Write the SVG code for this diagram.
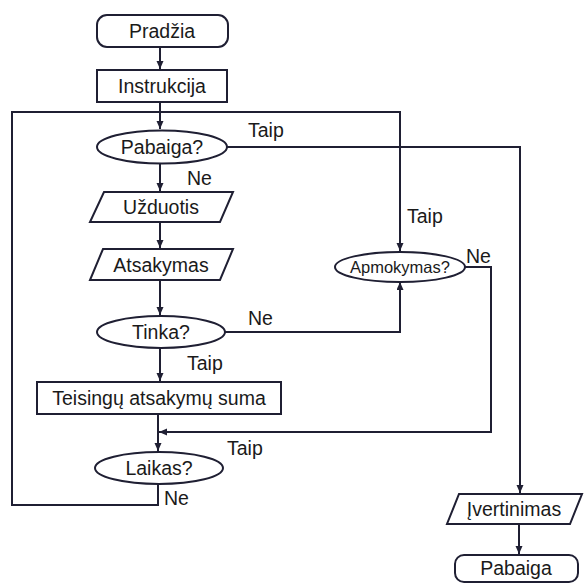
<svg xmlns="http://www.w3.org/2000/svg" width="585" height="584" viewBox="0 0 585 584">
<style>
.s{fill:#fff;stroke:#1f1f33;stroke-width:2}
.c{fill:none;stroke:#1f1f33;stroke-width:2}
text{font-family:"Liberation Sans",Arial,sans-serif;font-size:19.5px;fill:#1a1a1a}
.m{text-anchor:middle;dominant-baseline:central}
.sm{font-size:16.5px}
</style>
<defs>
<marker id="a" markerWidth="9" markerHeight="8" refX="8" refY="3.5" orient="auto" markerUnits="userSpaceOnUse">
<path d="M0,0 L8,3.5 L0,7 z" fill="#1f1f33"/>
</marker>
</defs>
<rect width="585" height="584" fill="#fff"/>
<g id="connectors">
<path class="c" d="M160 47 V69" marker-end="url(#a)"/>
<path class="c" d="M160 102 V129" marker-end="url(#a)"/>
<path class="c" d="M227 147 H520 V493" marker-end="url(#a)"/>
<path class="c" d="M160 163 V191" marker-end="url(#a)"/>
<path class="c" d="M160 222 V248" marker-end="url(#a)"/>
<path class="c" d="M160 280 V315" marker-end="url(#a)"/>
<path class="c" d="M225 332 H400 V282" marker-end="url(#a)"/>
<path class="c" d="M160 348 V381" marker-end="url(#a)"/>
<path class="c" d="M158 414 V451" marker-end="url(#a)"/>
<path class="c" d="M465 267 H491 V432 H159" marker-end="url(#a)"/>
<path class="c" d="M158 484 V505 H12 V112 H400 V251" marker-end="url(#a)"/>
<path class="c" d="M519 524 V554" marker-end="url(#a)"/>
<text x="248" y="137">Taip</text>
<text x="187" y="185">Ne</text>
<text x="407" y="223">Taip</text>
<text x="466" y="263">Ne</text>
<text x="248" y="325">Ne</text>
<text x="187" y="370">Taip</text>
<text x="227" y="455">Taip</text>
<text x="164" y="505">Ne</text>
</g>
<g id="pradzia"><rect class="s" x="97" y="15" width="131" height="32" rx="10"/><text class="m" x="162" y="31">Pradžia</text></g>
<g id="instrukcija"><rect class="s" x="97" y="70" width="130" height="32"/><text class="m" x="162" y="86">Instrukcija</text></g>
<g id="pabaiga-q"><ellipse class="s" cx="162" cy="147" rx="65" ry="16.5"/><text class="m" x="162" y="147">Pabaiga?</text></g>
<g id="uzduotis"><path class="s" d="M104 192 H233 L220 222 H90 Z"/><text class="m" x="161" y="207">Užduotis</text></g>
<g id="atsakymas"><path class="s" d="M103 249 H233 L220 280 H90 Z"/><text class="m" x="161" y="265">Atsakymas</text></g>
<g id="tinka"><ellipse class="s" cx="161" cy="332" rx="64" ry="16"/><text class="m" x="161" y="332">Tinka?</text></g>
<g id="teisingu"><rect class="s" x="37" y="382" width="244" height="32"/><text class="m" x="159" y="398">Teisingų atsakymų suma</text></g>
<g id="laikas"><ellipse class="s" cx="159" cy="468" rx="64" ry="16"/><text class="m" x="159" y="468">Laikas?</text></g>
<g id="apmokymas"><ellipse class="s" cx="400" cy="267" rx="65" ry="15"/><text class="m sm" x="400" y="267">Apmokymas?</text></g>
<g id="ivertinimas"><path class="s" d="M459 494 H582 L570 524 H447 Z"/><text class="m" x="514" y="509">Įvertinimas</text></g>
<g id="pabaiga"><rect class="s" x="455" y="555" width="123" height="27" rx="9"/><text class="m" x="516" y="568">Pabaiga</text></g>
</svg>
